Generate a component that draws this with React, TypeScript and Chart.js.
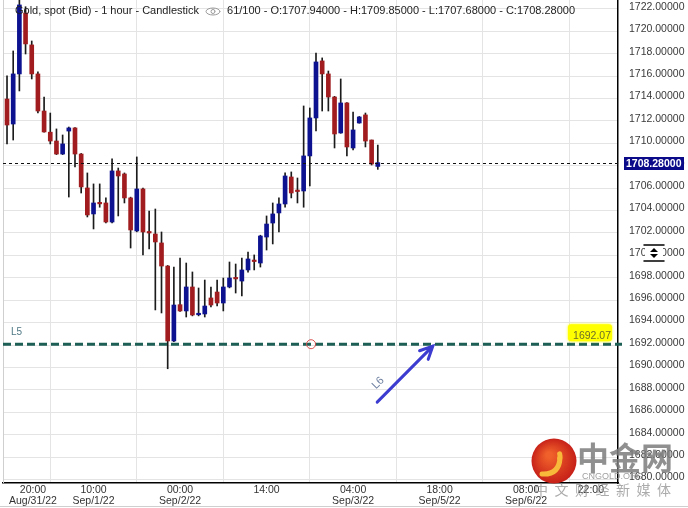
import React, { useEffect, useRef } from "react";
import { Chart, registerables } from "chart.js";
Chart.register(...registerables);

// ---- data (hourly candles, XAU spot) ----
const opens = [
  1713.96, 1711.73, 1716.2, 1721.64, 1718.79, 1716.2, 1712.89, 1711.0, 1710.21, 1709.05,
  1711.1, 1711.38, 1709.05, 1706.02, 1703.7, 1704.7, 1704.68, 1702.98, 1707.54, 1707.27,
  1705.13, 1702.18, 1705.93, 1702.1, 1701.91, 1701.11, 1699.05, 1692.36, 1695.6, 1695.04,
  1697.18, 1694.7, 1694.77, 1696.2, 1696.73, 1695.75, 1697.18, 1698.0, 1697.71, 1698.7,
  1699.55, 1699.32, 1701.64, 1702.89, 1703.79, 1704.59, 1707.0, 1705.8, 1705.75, 1708.88,
  1712.27, 1717.36, 1716.2, 1714.14, 1710.93, 1713.61, 1709.59, 1711.82, 1712.54, 1710.3,
  1707.94,
];
const highs = [
  1716.02, 1718.25, 1723.2, 1722.2, 1719.14, 1716.38, 1714.14, 1712.71, 1711.29, 1710.75,
  1711.46, 1711.4, 1709.1, 1707.36, 1706.38, 1706.38, 1705.13, 1708.61, 1707.8, 1707.36,
  1705.2, 1708.79, 1706.0, 1703.96, 1704.14, 1702.09, 1699.1, 1698.96, 1699.77, 1699.32,
  1698.52, 1697.09, 1697.8, 1697.18, 1697.8, 1697.98, 1699.41, 1699.23, 1699.77, 1700.3,
  1700.04, 1701.8, 1703.52, 1704.68, 1705.13, 1707.36, 1707.45, 1706.91, 1713.34, 1713.16,
  1718.07, 1717.63, 1716.46, 1714.2, 1715.75, 1713.65, 1712.8, 1712.4, 1712.71, 1710.3,
  1709.85,
];
const lows = [
  1709.95, 1710.3, 1714.68, 1717.98, 1715.75, 1712.71, 1711.0, 1709.95, 1709.0, 1709.0,
  1705.21, 1707.89, 1705.57, 1703.43, 1702.36, 1704.3, 1702.9, 1702.9, 1703.52, 1704.68,
  1700.66, 1702.1, 1700.04, 1700.57, 1695.13, 1694.86, 1689.88, 1692.3, 1695.0, 1694.5,
  1694.6, 1694.6, 1694.5, 1695.4, 1695.5, 1695.04, 1697.1, 1696.64, 1696.38, 1698.5,
  1698.7, 1698.96, 1700.48, 1701.02, 1702.09, 1704.3, 1705.13, 1704.68, 1704.3, 1706.2,
  1711.11, 1712.89, 1712.89, 1709.59, 1710.9, 1708.88, 1709.41, 1711.8, 1709.68, 1708.07,
  1707.68,
];
const closes = [
  1711.64, 1716.2, 1722.36, 1718.88, 1716.2, 1712.89, 1711.02, 1710.21, 1709.05, 1709.95,
  1711.38, 1709.05, 1706.11, 1703.61, 1704.68, 1704.6, 1702.98, 1707.54, 1707.09, 1705.13,
  1702.27, 1705.93, 1702.09, 1702.0, 1701.2, 1699.05, 1692.36, 1695.57, 1695.04, 1697.18,
  1694.68, 1694.8, 1695.48, 1695.57, 1695.75, 1697.18, 1697.98, 1697.9, 1698.7, 1699.68,
  1699.45, 1701.73, 1702.8, 1703.7, 1704.59, 1707.09, 1705.57, 1705.7, 1708.88, 1712.27,
  1717.27, 1716.2, 1714.14, 1710.84, 1713.61, 1709.68, 1711.2, 1712.36, 1710.21, 1708.16,
  1708.28,
];

const xTickIndex = [0, 14, 28, 42, 56, 70, 84, 98];
const xTickLabels = [
  ["20:00", "Aug/31/22"],
  ["10:00", "Sep/1/22"],
  ["00:00", "Sep/2/22"],
  ["14:00"],
  ["04:00", "Sep/3/22"],
  ["18:00", "Sep/5/22"],
  ["08:00", "Sep/6/22"],
  ["22:00"],
];
const yTickValues = [
  1680, 1682, 1684, 1686, 1688, 1690, 1692, 1694, 1696, 1698, 1700,
  1702, 1704, 1706, 1708, 1710, 1712, 1714, 1716, 1718, 1720, 1722,
];

const titleMain = "Gold, spot (Bid) - 1 hour - Candlestick";
const titleBars = "61/100";
const levelL5 = 1692.07;
const circleMark = { x: 49.2, y: 1692.07 };
const arrowL6 = { x0: 59.9, y0: 1686.9, x1: 68.9, y1: 1691.9 };

const FONT = '"Liberation Sans", Arial, sans-serif';
const BLUE = "#0c1290";
const RED = "#a11c1f";

const overlay = {
  id: "overlay",
  afterDraw(chart: any) {
    const { ctx, chartArea: ca, scales } = chart;
    const xs = scales.x;
    const ys = scales.y;
    const last = opens.length - 1;
    const lastPrice = closes[last];
    ctx.save();

    // left frame + page line
    ctx.strokeStyle = "#cfcfcf";
    ctx.lineWidth = 1;
    ctx.beginPath();
    ctx.moveTo(ca.left + 0.5, 0);
    ctx.lineTo(ca.left + 0.5, ca.bottom);
    ctx.moveTo(0, 506.5);
    ctx.lineTo(688, 506.5);
    ctx.stroke();

    // last price dashed line
    const py = Math.round(ys.getPixelForValue(lastPrice)) + 0.5;
    ctx.setLineDash([3, 3]);
    ctx.strokeStyle = "#111";
    ctx.beginPath();
    ctx.moveTo(ca.left, py);
    ctx.lineTo(ca.right, py);
    ctx.stroke();
    ctx.setLineDash([]);
    ctx.fillStyle = "#0b0b8a";
    ctx.fillRect(ca.right + 6, py - 6.5, 60, 13);
    ctx.fillStyle = "#fff";
    ctx.font = `bold 10.5px ${FONT}`;
    ctx.textAlign = "left";
    ctx.textBaseline = "middle";
    ctx.fillText(lastPrice.toFixed(5), ca.right + 8, py + 0.5);

    // L5 level
    const ly = ys.getPixelForValue(levelL5);
    ctx.strokeStyle = "#1d5f55";
    ctx.lineWidth = 3;
    ctx.setLineDash([8, 4]);
    ctx.beginPath();
    ctx.moveTo(ca.left, ly);
    ctx.lineTo(ca.right + 4, ly);
    ctx.stroke();
    ctx.setLineDash([]);
    ctx.fillStyle = "#4f7884";
    ctx.font = `10px ${FONT}`;
    ctx.textAlign = "left";
    ctx.fillText("L5", ca.left + 8, ly - 12);

    // yellow value tag
    ctx.save();
    ctx.shadowColor = "#ffff00";
    ctx.shadowBlur = 3;
    ctx.fillStyle = "#ffff00";
    ctx.beginPath();
    (ctx as any).roundRect(ca.right - 50, ly - 20, 44, 17, 3);
    ctx.fill();
    ctx.restore();
    ctx.fillStyle = "#6e6e2a";
    ctx.font = `10.5px ${FONT}`;
    ctx.textAlign = "right";
    ctx.fillText(levelL5.toFixed(2), ca.right - 7, ly - 8);

    // red circle marker
    ctx.strokeStyle = "#d9534f";
    ctx.lineWidth = 1;
    ctx.beginPath();
    ctx.arc(xs.getPixelForValue(circleMark.x), ys.getPixelForValue(circleMark.y), 4.5, 0, Math.PI * 2);
    ctx.stroke();

    // L6 arrow
    const ax0 = xs.getPixelForValue(arrowL6.x0);
    const ay0 = ys.getPixelForValue(arrowL6.y0);
    const ax1 = xs.getPixelForValue(arrowL6.x1);
    const ay1 = ys.getPixelForValue(arrowL6.y1);
    const ang = Math.atan2(ay1 - ay0, ax1 - ax0);
    ctx.strokeStyle = "#3c3cd0";
    ctx.lineWidth = 3;
    ctx.lineCap = "round";
    ctx.beginPath();
    ctx.moveTo(ax0, ay0);
    ctx.lineTo(ax1, ay1);
    ctx.moveTo(ax1 - 14 * Math.cos(ang - 0.45), ay1 - 14 * Math.sin(ang - 0.45));
    ctx.lineTo(ax1, ay1);
    ctx.lineTo(ax1 - 14 * Math.cos(ang + 0.45), ay1 - 14 * Math.sin(ang + 0.45));
    ctx.stroke();
    ctx.save();
    ctx.translate(ax0 + 1, ay0 - 19);
    ctx.rotate(-Math.PI / 4);
    ctx.fillStyle = "#6d7fa0";
    ctx.font = `11px ${FONT}`;
    ctx.textAlign = "center";
    ctx.textBaseline = "middle";
    ctx.fillText("L6", 0, 0);
    ctx.restore();

    // scroll icon on price axis
    const sy = ys.getPixelForValue(1700) - 2.5;
    ctx.fillStyle = "#fff";
    ctx.fillRect(645, sy - 7, 18, 14);
    ctx.strokeStyle = "#000";
    ctx.lineWidth = 1.5;
    ctx.beginPath();
    ctx.moveTo(644, sy - 8);
    ctx.lineTo(664, sy - 8);
    ctx.moveTo(644, sy + 8);
    ctx.lineTo(664, sy + 8);
    ctx.stroke();
    ctx.fillStyle = "#000";
    ctx.beginPath();
    ctx.moveTo(650, sy - 1);
    ctx.lineTo(658, sy - 1);
    ctx.lineTo(654, sy - 5);
    ctx.closePath();
    ctx.moveTo(650, sy + 1);
    ctx.lineTo(658, sy + 1);
    ctx.lineTo(654, sy + 5);
    ctx.closePath();
    ctx.fill();

    // x axis labels (clamped at edges)
    ctx.font = `10.5px ${FONT}`;
    ctx.fillStyle = "#333";
    ctx.textAlign = "center";
    ctx.textBaseline = "middle";
    xTickIndex.forEach((v, i) => {
      const lines = xTickLabels[i];
      const w = Math.max(...lines.map((s) => ctx.measureText(s).width));
      let cx = xs.getPixelForValue(v);
      cx = Math.max(cx, ca.left + 6 + w / 2);
      cx = Math.min(cx, ca.right - 14 - w / 2);
      lines.forEach((s, j) => ctx.fillText(s, cx, ca.bottom + 7.5 + j * 11));
    });

    // title
    ctx.font = `11px ${FONT}`;
    ctx.fillStyle = "#222";
    ctx.textAlign = "left";
    ctx.textBaseline = "middle";
    ctx.fillText(titleMain, 15, 11);
    const t1 = 15 + ctx.measureText(titleMain).width;
    // eye icon
    const ex = t1 + 14;
    ctx.strokeStyle = "#999";
    ctx.lineWidth = 1;
    ctx.beginPath();
    ctx.ellipse(ex, 11.5, 7, 3.5, 0, 0, Math.PI * 2);
    ctx.stroke();
    ctx.beginPath();
    ctx.arc(ex, 11.5, 2, 0, Math.PI * 2);
    ctx.stroke();
    const info =
      `${titleBars} - O:${opens[last].toFixed(5)} - H:${highs[last].toFixed(5)}` +
      ` - L:${lows[last].toFixed(5)} - C:${closes[last].toFixed(5)}`;
    ctx.fillText(info, t1 + 28, 11);

    // watermark
    const lx = 554;
    const lyc = 461;
    const g = ctx.createRadialGradient(lx - 5, lyc - 6, 3, lx, lyc, 23);
    g.addColorStop(0, "#f0602a");
    g.addColorStop(1, "#c61f18");
    ctx.fillStyle = g;
    ctx.beginPath();
    ctx.arc(lx, lyc, 22.5, 0, Math.PI * 2);
    ctx.fill();
    ctx.strokeStyle = "#f8b93a";
    ctx.lineWidth = 5;
    ctx.lineCap = "round";
    ctx.beginPath();
    ctx.arc(lx - 1, lyc - 5, 7, Math.PI * 0.1, Math.PI * 1.9, true);
    ctx.stroke();
    ctx.beginPath();
    ctx.moveTo(lx + 6, lyc - 3);
    ctx.quadraticCurveTo(lx + 5, lyc + 14, lx - 12, lyc + 13);
    ctx.stroke();

    ctx.fillStyle = "rgba(125,125,125,0.85)";
    ctx.font = `bold 32px "Noto Sans CJK SC", sans-serif`;
    ctx.textAlign = "left";
    ctx.textBaseline = "alphabetic";
    ctx.fillText("中金网", 577, 470);
    ctx.font = `9px ${FONT}`;
    ctx.fillStyle = "rgba(150,150,150,0.9)";
    ctx.fillText("CNGOLD.ORG", 582, 479);
    ctx.font = `14px "Noto Sans CJK SC", sans-serif`;
    ctx.fillStyle = "rgba(150,150,150,0.8)";
    ctx.textAlign = "center";
    ctx.textBaseline = "middle";
    "中文财经新媒体".split("").forEach((c, i) => ctx.fillText(c, 541 + i * 20.5, 490));

    ctx.restore();
  },
};

export default function App() {
  const ref = useRef<HTMLCanvasElement | null>(null);
  useEffect(() => {
    document.body.style.margin = "0";
    const canvas = ref.current;
    if (!canvas) return;
    const idx = opens.map((_, i) => i);
    const bodyColors = opens.map((o, i) => (closes[i] >= o ? BLUE : RED));
    const chart = new Chart(canvas, {
      type: "bar",
      data: {
        datasets: [
          {
            label: "body",
            data: idx.map((i) => ({ x: i, y: [opens[i], closes[i]] })) as any,
            backgroundColor: bodyColors,
            barThickness: 4,
            minBarLength: 1.5,
            grouped: false,
            order: 0,
            borderWidth: 0,
          } as any,
          {
            label: "wick",
            data: idx.map((i) => ({ x: i, y: [lows[i], highs[i]] })) as any,
            backgroundColor: "#1b1b1b",
            barThickness: 1,
            grouped: false,
            order: 1,
            borderWidth: 0,
          } as any,
        ],
      },
      options: {
        animation: false,
        responsive: false,
        events: [],
        layout: { padding: { left: 3, top: 0, right: 0, bottom: 0 } },
        plugins: {
          legend: { display: false },
          tooltip: { enabled: false },
        },
        scales: {
          x: {
            type: "linear",
            min: -0.65,
            max: 98.87,
            offset: false,
            afterBuildTicks: (s: any) => {
              s.ticks = xTickIndex.map((v) => ({ value: v }));
            },
            afterFit: (s: any) => {
              s.height = 25;
              s.paddingLeft = 0;
              s.paddingRight = 0;
            },
            ticks: { display: false, autoSkip: false },
            grid: { color: "#e4e4e4", drawTicks: false },
            border: { color: "#000", width: 1.5 },
          },
          y: {
            type: "linear",
            position: "right",
            min: 1679.68,
            max: 1722.8,
            afterBuildTicks: (s: any) => {
              s.ticks = yTickValues.map((v) => ({ value: v }));
            },
            afterFit: (s: any) => {
              s.width = 70;
              s.paddingTop = 0;
              s.paddingBottom = 0;
            },
            ticks: {
              callback: (v: any) => Number(v).toFixed(5),
              font: { family: FONT, size: 10.5 },
              color: "#3a3a3a",
              padding: 11,
              labelOffset: -2,
              autoSkip: false,
            },
            grid: { color: "#e4e4e4", drawTicks: false },
            border: { color: "#000", width: 1.5 },
          },
        },
      } as any,
      plugins: [overlay as any],
    });
    return () => chart.destroy();
  }, []);
  return (
    <div style={{ width: 688, height: 508 }}>
      <canvas ref={ref} width={688} height={508} style={{ display: "block" }} />
    </div>
  );
}
